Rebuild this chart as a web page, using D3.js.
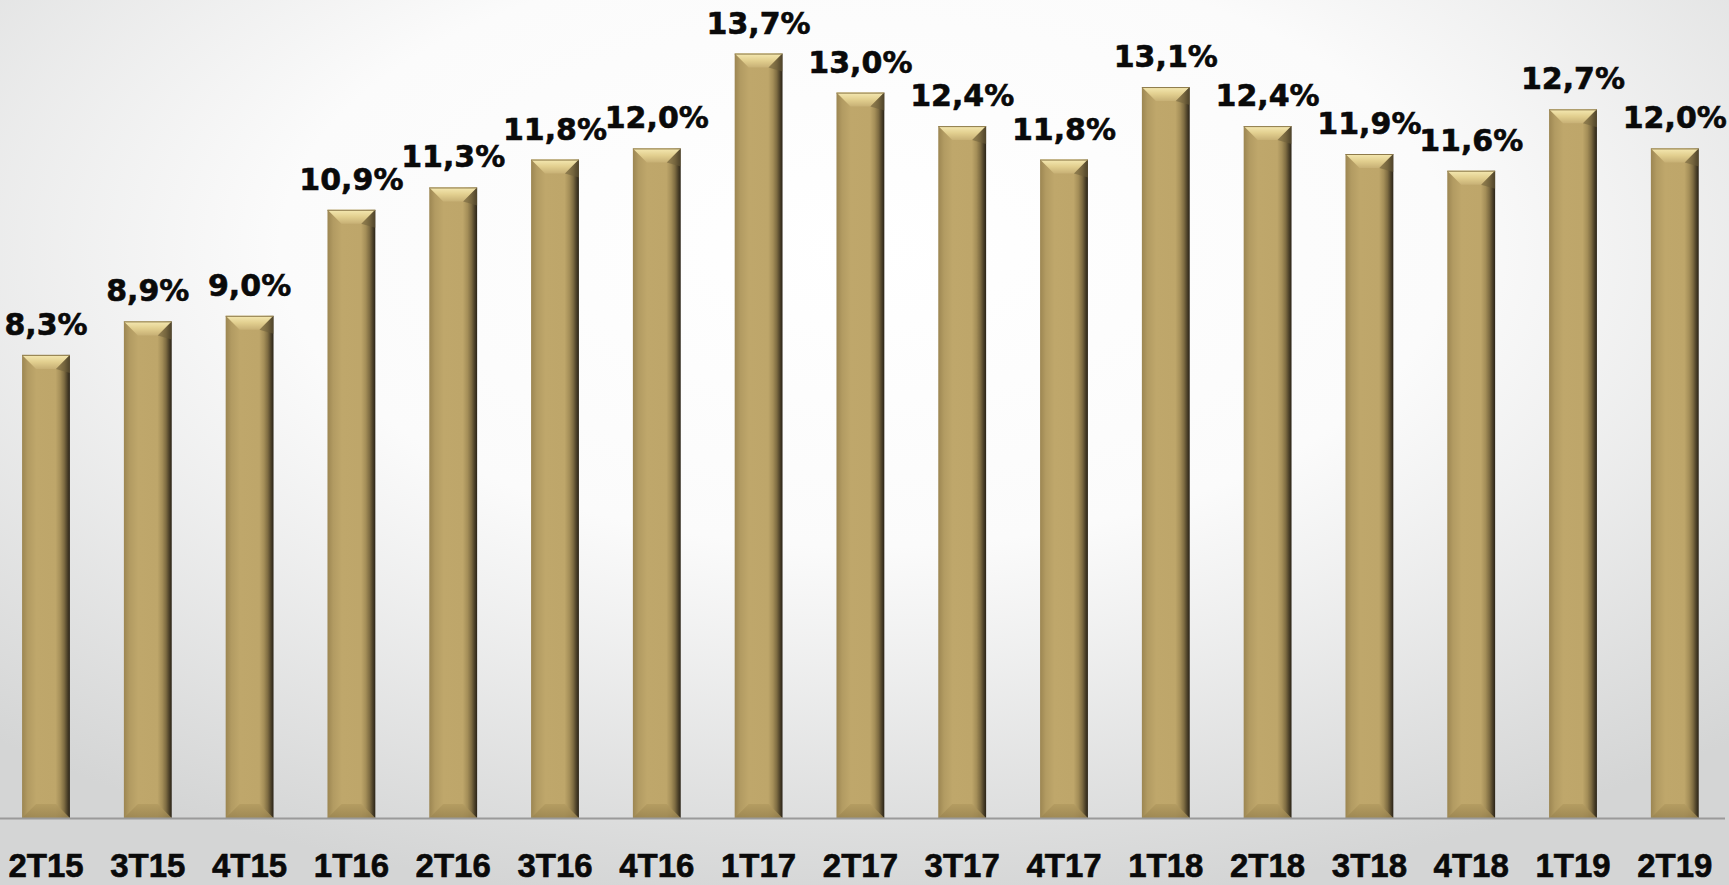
<!DOCTYPE html>
<html>
<head>
<meta charset="utf-8">
<script src="https://cdn.jsdelivr.net/npm/d3@7"></script>
<style>
html,body{margin:0;padding:0;overflow:hidden;}
svg{display:block;}
</style>
</head>
<body>
<svg id="chart" width="1729" height="885"></svg>
<script>
const categories = ["2T15","3T15","4T15","1T16","2T16","3T16","4T16","1T17","2T17","3T17","4T17","1T18","2T18","3T18","4T18","1T19","2T19"];
const values = [8.3,8.9,9.0,10.9,11.3,11.8,12.0,13.7,13.0,12.4,11.8,13.1,12.4,11.9,11.6,12.7,12.0];
const valueLabels = ["8,3%","8,9%","9,0%","10,9%","11,3%","11,8%","12,0%","13,7%","13,0%","12,4%","11,8%","13,1%","12,4%","11,9%","11,6%","12,7%","12,0%"];

const W = 1729, H = 885;
const svg = d3.select("#chart");
const defs = svg.append("defs");

// background
const bg = defs.append("radialGradient").attr("id","bg")
  .attr("cx","0.5").attr("cy","0.28").attr("r","0.75").attr("gradientUnits","objectBoundingBox");
bg.append("stop").attr("offset","0").attr("stop-color","#ffffff");
bg.append("stop").attr("offset","0.45").attr("stop-color","#fbfbfb");
bg.append("stop").attr("offset","1").attr("stop-color","#d4d5d5");
svg.append("rect").attr("width",W).attr("height",H).attr("fill","url(#bg)");

// bar gradients
const gBody = defs.append("linearGradient").attr("id","body").attr("x1","0").attr("x2","1").attr("y1","0").attr("y2","0");
[["0","#9c8652"],["0.12","#b29b62"],["0.3","#bfa76b"],["0.7","#bea66a"],["0.8","#a48e58"],["0.88","#7e6c42"],["0.95","#4a3f28"],["1","#2a2317"]]
  .forEach(([o,c])=>gBody.append("stop").attr("offset",o).attr("stop-color",c));
const gTop = defs.append("linearGradient").attr("id","topbev").attr("x1","0").attr("x2","0").attr("y1","0").attr("y2","1");
[["0","#f5e9b2"],["0.5","#e2cf8f"],["1","#c7b075"]].forEach(([o,c])=>gTop.append("stop").attr("offset",o).attr("stop-color",c));
const gBot = defs.append("linearGradient").attr("id","botbev").attr("x1","0").attr("x2","0").attr("y1","0").attr("y2","1");
[["0","#b39b60"],["1","#9a8450"]].forEach(([o,c])=>gBot.append("stop").attr("offset",o).attr("stop-color",c));

const baseY = 818;
const x = d3.scaleBand().domain(categories).range([-4.9, 1725.7]).paddingInner(0.53).paddingOuter(0.265);
const y = d3.scaleLinear().domain([0, 14.66]).range([baseY, 0]);

const bw = x.bandwidth();
const bev = 14;

const bars = svg.append("g").selectAll("g").data(categories).join("g");

bars.append("rect")
  .attr("x", d => x(d)).attr("y", (d,i) => y(values[i]))
  .attr("width", bw).attr("height", (d,i) => baseY - y(values[i]))
  .attr("fill","url(#body)");

// top bevel
bars.append("polygon")
  .attr("points", (d,i) => {
    const x0 = x(d), x1 = x0 + bw, t = y(values[i]);
    return [[x0,t],[x1,t],[x1-bev,t+bev],[x0+bev,t+bev]].map(p=>p.join(",")).join(" ");
  })
  .attr("fill","url(#topbev)");
// top bevel right side darker triangle area
bars.append("polygon")
  .attr("points", (d,i) => {
    const x0 = x(d), x1 = x0 + bw, t = y(values[i]);
    return [[x1,t],[x1,t+bev+4],[x1-bev,t+bev]].map(p=>p.join(",")).join(" ");
  })
  .attr("fill","#6e5e3a").attr("opacity",0.55);
// top edge line
bars.append("line")
  .attr("x1", d => x(d)).attr("x2", d => x(d) + bw)
  .attr("y1", (d,i) => y(values[i]) + 0.5).attr("y2", (d,i) => y(values[i]) + 0.5)
  .attr("stroke","#8d7a4b").attr("stroke-width",1);
// bottom bevel
bars.append("polygon")
  .attr("points", (d,i) => {
    const x0 = x(d), x1 = x0 + bw, b = baseY;
    return [[x0,b],[x1,b],[x1-bev,b-bev],[x0+bev,b-bev]].map(p=>p.join(",")).join(" ");
  })
  .attr("fill","url(#botbev)").attr("opacity",0.85);

// baseline
svg.append("line").attr("x1",0).attr("x2",1725).attr("y1",baseY+0.5).attr("y2",baseY+0.5)
  .attr("stroke","#9a9a9a").attr("stroke-width",2);

// value labels
svg.append("g").selectAll("text").data(categories).join("text")
  .attr("x", d => x(d) + bw/2)
  .attr("y", (d,i) => y(values[i]) - 20)
  .attr("text-anchor","middle")
  .attr("font-family","'DejaVu Sans', sans-serif").attr("font-weight","bold")
  .attr("font-size","30px").attr("fill","#0a0a0a")
  .attr("stroke","#0a0a0a").attr("stroke-width",0.6)
  .text((d,i) => valueLabels[i]);

// x axis labels
const xAxis = d3.axisBottom(x).tickSize(0).tickPadding(0);
const ax = svg.append("g").attr("transform",`translate(0,${baseY})`).call(xAxis);
ax.select(".domain").remove();
ax.selectAll("text")
  .attr("dy", null).attr("y", 59)
  .attr("font-family","'Liberation Sans', Arial, sans-serif").attr("font-weight","bold")
  .attr("font-size","33px").attr("fill","#0a0a0a")
  .attr("stroke","#0a0a0a").attr("stroke-width",0.6);
</script>
</body>
</html>
